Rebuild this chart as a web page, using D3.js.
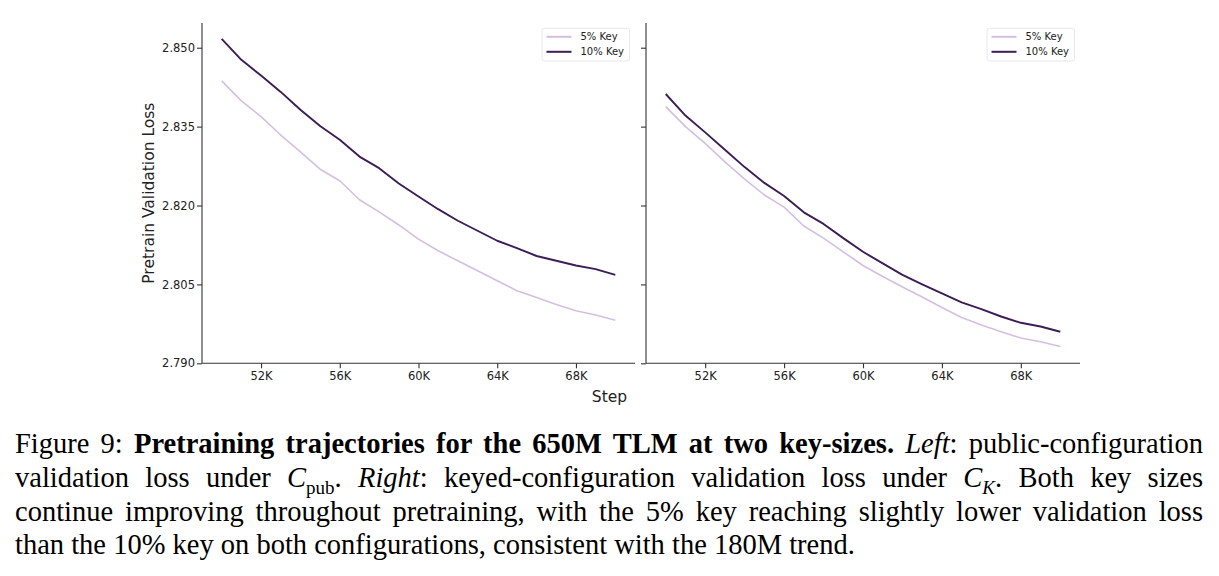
<!DOCTYPE html>
<html>
<head>
<meta charset="utf-8">
<script src="https://cdn.jsdelivr.net/npm/d3@7"></script>
<style>
  body { margin: 0; background: #fff; width: 1219px; height: 576px; overflow: hidden; position: relative; }
  .axis text { font-family: "DejaVu Sans", sans-serif; font-size: 11.5px; fill: #222; }
  .axis path, .axis line { stroke: #333; stroke-width: 1.1px; }
  .caption { position: absolute; left: 15px; top: 427px; width: 1188px;
    font-family: "Liberation Serif", "Times New Roman", serif; font-size: 28.5px; line-height: 33.8px; color: #000; }
  .caption div { text-align: justify; text-align-last: justify; white-space: nowrap; }
  .caption div.last { text-align-last: left; }
  .caption sub { font-size: 19px; line-height: 0; }
</style>
</head>
<body>
<svg id="chart" width="1219" height="420"></svg>
<div class="caption">
  <div>Figure 9: <b>Pretraining trajectories for the 650M TLM at two key-sizes.</b> <i>Left</i>: public-configuration</div>
  <div>validation loss under <i>C</i><sub>pub</sub>. <i>Right</i>: keyed-configuration validation loss under <i>C</i><sub><i>K</i></sub>. Both key sizes</div>
  <div>continue improving throughout pretraining, with the 5% key reaching slightly lower validation loss</div>
  <div class="last">than the 10% key on both configurations, consistent with the 180M trend.</div>
</div>
<script>
// donnees
var steps = [50000, 51000, 52000, 53000, 54000, 55000, 56000, 57000, 58000, 59000, 60000,
             61000, 62000, 63000, 64000, 65000, 66000, 67000, 68000, 69000, 70000];

// gauche : C_pub
var pubKey5 = [2.8437, 2.8399, 2.8369, 2.8334, 2.8302, 2.8269, 2.8247, 2.8211, 2.8188, 2.8163, 2.8136,
               2.8114, 2.8095, 2.8076, 2.8057, 2.8038, 2.8025, 2.8012, 2.8000, 2.7992, 2.7982];
var pubKey10 = [2.8517, 2.8477, 2.8447, 2.8416, 2.8382, 2.8351, 2.8325, 2.8293, 2.8271, 2.8242, 2.8217,
                2.8193, 2.8171, 2.8152, 2.8133, 2.8119, 2.8104, 2.8095, 2.8086, 2.8079, 2.8068];

// droite : C_K
var keyedKey5 = [2.8388, 2.8350, 2.8318, 2.8283, 2.8250, 2.8220, 2.8197, 2.8161, 2.8138, 2.8112, 2.8086,
                 2.8065, 2.8045, 2.8026, 2.8006, 2.7987, 2.7973, 2.7960, 2.7948, 2.7941, 2.7932];
var keyedKey10 = [2.8412, 2.8371, 2.8339, 2.8306, 2.8273, 2.8243, 2.8218, 2.8187, 2.8165, 2.8138, 2.8112,
                  2.8090, 2.8068, 2.8050, 2.8033, 2.8016, 2.8003, 2.7989, 2.7977, 2.7970, 2.7960];

var seriesNames = ["5% Key", "10% Key"];
var seriesColors = ["#d4bfe1", "#3c1d55"];
var xTicks = [52000, 56000, 60000, 64000, 68000];
var yTicks = [2.790, 2.805, 2.820, 2.835, 2.850];
var xLimits = [49000, 71000];
var yLimits = [2.790, 2.8547];

var svg = d3.select("#chart");

var plotTop = 23, plotBottom = 363.3;

var yScale = d3.scaleLinear()
    .domain(yLimits)
    .range([plotBottom, plotTop]);

drawPanel(202, 635, [pubKey5, pubKey10], true);
drawPanel(646, 1080, [keyedKey5, keyedKey10], false);

// titre des axes
svg.append("text")
    .attr("transform", "translate(154," + ((plotTop + plotBottom) / 2) + ") rotate(-90)")
    .attr("text-anchor", "middle")
    .style("font-family", "DejaVu Sans, sans-serif")
    .style("font-size", "15.5px")
    .style("fill", "#222")
    .text("Pretrain Validation Loss");

svg.append("text")
    .attr("x", 609.5)
    .attr("y", 402)
    .attr("text-anchor", "middle")
    .style("font-family", "DejaVu Sans, sans-serif")
    .style("font-size", "15.5px")
    .style("fill", "#222")
    .text("Step");

function drawPanel(x0, x1, values, showYLabels) {

    var xScale = d3.scaleLinear()
        .domain(xLimits)
        .range([x0, x1]);

    var xAxis = d3.axisBottom(xScale)
        .tickValues(xTicks)
        .tickSize(5)
        .tickPadding(4)
        .tickFormat(function (d) { return (d / 1000) + "K"; });

    var yAxis = d3.axisLeft(yScale)
        .tickValues(yTicks)
        .tickSize(5)
        .tickPadding(2)
        .tickFormat(showYLabels ? d3.format(".3f") : "");

    svg.append("g")
        .attr("class", "x axis")
        .attr("transform", "translate(0," + plotBottom + ")")
        .call(xAxis)
        .call(function (g) { g.select(".domain").attr("d", "M" + x0 + ",0H" + x1); });

    svg.append("g")
        .attr("class", "y axis")
        .attr("transform", "translate(" + x0 + ",0)")
        .call(yAxis)
        .call(function (g) { g.select(".domain").attr("d", "M0," + plotTop + "V" + plotBottom); });

    var line = d3.line()
        .x(function (d, i) { return xScale(steps[i]); })
        .y(function (d) { return yScale(d); });

    values.forEach(function (serie, k) {
        svg.append("path")
            .attr("fill", "none")
            .attr("stroke", seriesColors[k])
            .attr("stroke-width", k === 0 ? 1.6 : 1.9)
            .attr("stroke-linejoin", "round")
            .attr("d", line(serie));
    });

    // legende en haut a droite
    var legX = x1 - 93, legY = 28.3;
    var leg = svg.append("g").attr("transform", "translate(" + legX + "," + legY + ")");
    leg.append("rect")
        .attr("width", 87.5)
        .attr("height", 32.7)
        .attr("rx", 2.5)
        .attr("fill", "#fff")
        .attr("stroke", "#e2e2e2")
        .attr("stroke-width", 0.8);

    seriesNames.forEach(function (name, k) {
        var yy = 8.5 + k * 15;
        leg.append("line")
            .attr("x1", 4.5).attr("x2", 29.5)
            .attr("y1", yy).attr("y2", yy)
            .attr("stroke", seriesColors[k])
            .attr("stroke-width", 2);
        leg.append("text")
            .attr("x", 38.5)
            .attr("y", yy)
            .attr("dy", "0.35em")
            .style("font-family", "DejaVu Sans, sans-serif")
            .style("font-size", "10px")
            .style("fill", "#222")
            .text(name);
    });
}
</script>
</body>
</html>
